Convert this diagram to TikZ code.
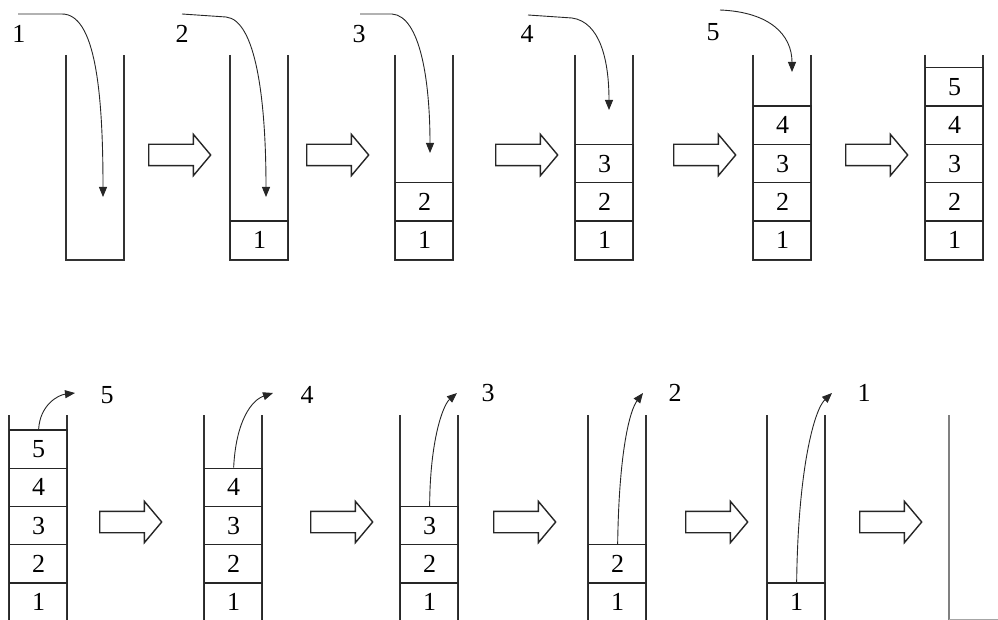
\documentclass[tikz,border=0pt]{standalone}
\usepackage{fontspec}
\setmainfont{Liberation Serif}
\usetikzlibrary{shapes.arrows,arrows.meta}

\tikzset{
  wall/.style={line width=1.6pt, draw=black!80},
  cell/.style={draw=black!85, line width=1.3pt, minimum width=58pt,
    minimum height=38.3pt, inner sep=0pt, anchor=south west,
    font=\fontsize{26}{26}\selectfont},
  lbl/.style={inner sep=0pt, font=\fontsize{26}{26}\selectfont},
  moveto/.style={-{Triangle[length=10pt,width=8pt]}, line width=0.9pt, draw=black!85},
  fat/.style={single arrow, draw=black!85, line width=1.4pt, minimum height=62pt,
    minimum width=40pt, single arrow head extend=10pt, single arrow tip angle=100,
    inner xsep=0pt, inner ysep=10pt, anchor=tail}
}

% a stack: name, left x, bottom y, top y of the walls, number of filled cells
\newcommand\tower[5]{%
  \draw[wall] (#2,#4) -- (#2,#3) -- ({#2+58},#3) -- ({#2+58},#4);
  \ifnum#5>0
    \foreach \k in {1,...,#5}
      \node[cell] (#1c\k) at (#2,{#3-(\k-1)*38.3}) {\k};
  \fi
}

\begin{document}
\begin{tikzpicture}[x=1pt,y=-1pt]
\useasboundingbox (0,0) rectangle (998,620);

% ---------- push sequence ----------
\tower{pa}{66}{260}{55}{0}
\tower{pb}{230}{260}{55}{1}
\tower{pc}{395}{260}{55}{2}
\tower{pd}{575}{260}{55}{3}
\tower{pe}{753}{260}{55}{4}
\tower{pf}{925}{260}{55}{5}

\node[fat] (sa) at (148,155) {};
\node[fat] (sb) at (306,155) {};
\node[fat] (sc) at (495,155) {};
\node[fat] (sd) at (673,155) {};
\node[fat] (se) at (845,155) {};

\node[lbl] (ia) at (19,34) {1};
\node[lbl] (ib) at (182,34) {2};
\node[lbl] (ic) at (359,34) {3};
\node[lbl] (id) at (527,34) {4};
\node[lbl] (ie) at (713,32) {5};

\coordinate (ga) at (18,14);   \coordinate (ha) at (103,197);
\coordinate (gb) at (182,14);  \coordinate (hb) at (266,197);
\coordinate (gc) at (360,14);  \coordinate (hc) at (430,153);
\coordinate (gd) at (528,15);  \coordinate (hd) at (609,110);
\coordinate (ge) at (720,10);  \coordinate (he) at (792,72);

\draw[moveto] (ga) -- (62,14) .. controls (95,14) and (103,90) .. (ha);
\draw[moveto] (gb) -- (226,17) .. controls (256,20) and (266,100) .. (hb);
\draw[moveto] (gc) -- (392,14) .. controls (420,16) and (430,80) .. (hc);
\draw[moveto] (gd) -- (572,18) .. controls (600,22) and (609,60) .. (hd);
\draw[moveto] (ge) .. controls (770,12) and (792,35) .. (he);

% ---------- pop sequence ----------
% the lower row runs off the bottom edge
\begin{scope}
\clip (-5,300) rectangle (1003,619.4);
\tower{qa}{9}{622}{415}{5}
\tower{qb}{204}{622}{415}{4}
\tower{qc}{400}{622}{415}{3}
\tower{qd}{588}{622}{415}{2}
\tower{qe}{767}{622}{415}{1}
\end{scope}
\draw[wall, draw=black!50] (949,415) -- (949,619.5);
\draw[line width=0.8pt, draw=black!35] (949,619.5) -- (1010,619.5);

\node[fat] (ta) at (99,522) {};
\node[fat] (tb) at (310,522) {};
\node[fat] (tc) at (493,522) {};
\node[fat] (td) at (685,522) {};
\node[fat] (te) at (859,522) {};

\node[lbl] (oa) at (107,395) {5};
\node[lbl] (ob) at (307,395) {4};
\node[lbl] (oc) at (488,393) {3};
\node[lbl] (od) at (675,393) {2};
\node[lbl] (oe) at (864,393) {1};

\coordinate (ua) at (75,393);
\coordinate (ub) at (273,393);
\coordinate (uc) at (457,393);
\coordinate (ud) at (643,393);
\coordinate (ue) at (832,393);

\draw[moveto] (qac5.north) .. controls (40,405) and (58,395) .. (ua);
\draw[moveto] (qbc4.north) .. controls (236,420) and (252,400) .. (ub);
\draw[moveto] (qcc3.north) .. controls (430,440) and (443,405) .. (uc);
\draw[moveto] (qdc2.north) .. controls (619,450) and (630,410) .. (ud);
\draw[moveto] (qec1.north) .. controls (798,470) and (814,410) .. (ue);
\end{tikzpicture}
\end{document}
